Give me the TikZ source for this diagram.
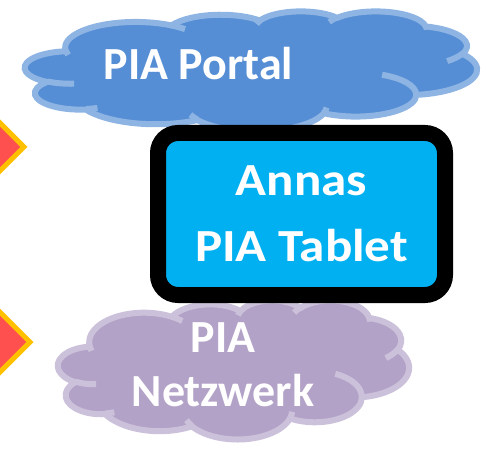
\documentclass[tikz,border=0pt]{standalone}
\usepackage{fontspec}
\setmainfont{Carlito}
\newfontfamily\tabletfont{Carlito}[FakeStretch=1.11]
\usetikzlibrary{shapes.geometric}

\definecolor{portalblue}{HTML}{558ED5}
\definecolor{portalline}{HTML}{8EB4E3}
\definecolor{netzlila}{HTML}{B3A2C7}
\definecolor{netzline}{HTML}{CCC1DA}
\definecolor{tabletcyan}{HTML}{00B0F0}
\definecolor{signred}{HTML}{FF5050}
\definecolor{signgold}{HTML}{FFC000}

% one puff of the cloud: radii, start angle, sweep
\newcommand{\puff}[4]{arc[x radius=#1, y radius=#2,
  start angle={atan2(#1*sin(#3),#2*cos(#3))},
  delta angle={mod(atan2(#1*sin(#3+#4),#2*cos(#3+#4))-atan2(#1*sin(#3),#2*cos(#3))+720,360)}]}

% cloud in a 432 x 432 box: left, top, width, height, fill, line
\newcommand{\wolke}[6]{%
\begin{scope}[shift={(#1,#2)}, xscale=#3/432, yscale=#4/432]
\filldraw[fill=#5, draw=#6, line width=6pt] (39,143.7)
  \puff{67.53}{91.90}{-190.487}{123.781}
  \puff{53.33}{72.67}{-144.102}{89.945}
  \puff{43.65}{59.45}{-145.808}{99.723}
  \puff{48.57}{65.95}{-130.986}{117.242}
  \puff{53.33}{72.73}{-78.709}{109.027}
  \puff{67.75}{92.20}{-46.267}{130.269}
  \puff{57.85}{78.67}{0.625}{114.033}
  \puff{67.52}{92.15}{22.452}{115.173}
  \puff{77.20}{105.43}{66.243}{75.711}
  \puff{43.60}{59.18}{-274.942}{146.736}
  \puff{43.45}{59.45}{-246.829}{152.519} -- cycle;
\draw[#6, line width=6pt]
  (46.93,261.77) \puff{43.45}{59.45}{86.742}{26.430}
  (69.28,348.99) \puff{43.60}{59.18}{73.610}{11.447}
  (164.78,390.90) \puff{67.52}{92.15}{137.624}{14.081}
  (288.27,347.51) \puff{67.52}{92.15}{6.453}{15.998}
  (341.29,229.54) \puff{57.85}{78.67}{-70.292}{70.917}
  (417.98,153.54) \puff{53.33}{72.73}{30.318}{27.752}
  (383.24,54.26) \puff{48.57}{65.95}{-13.744}{14.859}
  (290.78,39.52) \puff{48.57}{65.95}{-149.181}{18.195}
  (221.41,47.20) \puff{43.65}{59.45}{-163.494}{17.686}
  (140.00,51.92) \puff{67.53}{91.90}{-66.707}{12.319}
  (41.27,157.89) \puff{67.53}{91.90}{157.654}{11.858};
\end{scope}}

\tikzset{
  bigtext/.style={text=white, font=\bfseries\fontsize{46}{54}\selectfont, align=center},
  signbox/.style={diamond, draw=signgold, fill=signred, line width=5pt, inner sep=0pt}
}

\begin{document}
\begin{tikzpicture}[x=1pt,y=-1pt]
\useasboundingbox (0,0) rectangle (481,454);
\pgfmathsetmacro{\tabw}{287}
\pgfmathsetmacro{\tabh}{162}
% Wolken
\wolke{25}{11}{452}{120}{portalblue}{portalline}
\node[bigtext] (portaltext) at (198.5,64) {PIA Portal};
\wolke{58}{300}{351}{139}{netzlila}{netzline}
\node[bigtext] (netztext) at (223,365) {PIA\\Netzwerk};
% Tablet
\node[rectangle, rounded corners=20pt, draw=black, fill=tabletcyan, line width=16pt,
      minimum width=\tabw pt, minimum height=\tabh pt, bigtext,
      font=\tabletfont\bfseries\fontsize{46}{66}\selectfont] (tablet) at (301.5,214) {Annas\\PIA Tablet};
% Pfeile links
\node[signbox, minimum width=50pt, minimum height=50pt] (signtop) at (0,147) {};
\node[signbox, minimum width=62pt, minimum height=62pt] (signbottom) at (0,342) {};
\end{tikzpicture}
\end{document}
